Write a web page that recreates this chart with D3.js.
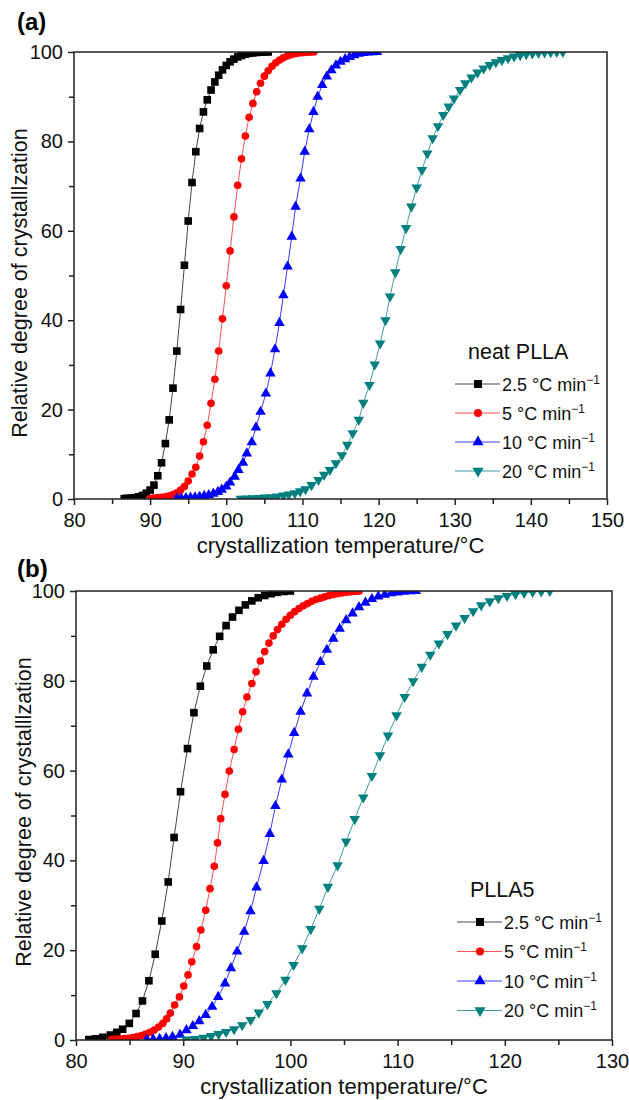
<!DOCTYPE html>
<html><head><meta charset="utf-8">
<script src="https://cdn.jsdelivr.net/npm/d3@7"></script>
<style>html,body{margin:0;padding:0;background:#fff;}svg{display:block;font-family:"Liberation Sans",Arial,Helvetica,sans-serif;}</style>
</head><body>
<svg id="chart" width="629" height="1100"></svg>
<script>
// ---------- data (temperature °C, relative degree of crystallization %) ----------
const seriesLabels = ["2.5 °C min", "5 °C min", "10 °C min", "20 °C min"];
const xTicksA = [80, 90, 100, 110, 120, 130, 140, 150];
const xTicksB = [80, 90, 100, 110, 120, 130];
const yTicks = [0, 20, 40, 60, 80, 100];

// panel (a) neat PLLA
const a25 = [[86.6,0.1],[87.0,0.15],[87.5,0.2],[88.0,0.3],[88.5,0.5],[89.0,0.8],[89.5,1.3],[90.0,2.0],[90.5,3.1],[91.0,5.2],[91.5,8.1],[92.0,12.4],[92.5,17.7],[93.0,24.8],[93.5,33.1],[94.0,42.4],[94.5,52.3],[95.0,62.2],[95.5,70.8],[96.0,77.7],[96.5,82.9],[97.0,86.6],[97.5,89.3],[98.0,91.5],[98.5,93.3],[99.0,94.8],[99.5,96.0],[100.0,97.0],[100.5,97.8],[101.0,98.4],[101.5,98.9],[102.0,99.2],[102.5,99.5],[103.0,99.7],[103.5,99.8],[104.0,99.9],[104.5,99.95],[105.0,100],[105.5,100]];
const a5 = [[90.0,0.1],[90.5,0.2],[91.0,0.3],[91.5,0.4],[92.0,0.5],[92.5,0.7],[93.0,1.0],[93.5,1.4],[94.0,2.0],[94.5,2.8],[95.0,4.0],[95.5,5.6],[96.0,7.1],[96.5,9.6],[97.0,12.8],[97.5,16.5],[98.0,21.4],[98.5,26.8],[99.0,33.1],[99.5,40.3],[100.0,47.7],[100.5,55.5],[101.0,63.1],[101.5,70.2],[102.0,76.1],[102.5,81.2],[103.0,85.4],[103.5,88.5],[104.0,91.1],[104.5,93.0],[105.0,94.6],[105.5,95.8],[106.0,96.8],[106.5,97.6],[107.0,98.2],[107.5,98.7],[108.0,99.1],[108.5,99.4],[109.0,99.6],[109.5,99.75],[110.0,99.85],[110.5,99.92],[111.0,99.97],[111.5,100]];
const a10 = [[93.5,0.1],[94.1,0.15],[94.7,0.2],[95.3,0.3],[95.9,0.4],[96.5,0.5],[97.1,0.7],[97.7,0.9],[98.3,1.2],[98.9,1.6],[99.4,2.1],[100.0,2.8],[100.5,3.7],[101.1,5.0],[101.6,6.5],[102.2,8.1],[102.7,10.2],[103.35,12.7],[103.9,16.0],[104.5,19.5],[105.2,23.6],[105.8,28.1],[106.4,33.5],[106.98,39.4],[107.5,45.6],[108.05,52.0],[108.6,58.7],[109.1,65.4],[109.75,71.7],[110.3,77.7],[110.9,82.7],[111.45,86.6],[112.0,90.0],[112.6,92.6],[113.2,94.5],[113.8,95.9],[114.4,97.0],[115.0,97.8],[115.6,98.4],[116.2,98.9],[116.8,99.3],[117.4,99.6],[118.0,99.8],[118.6,99.9],[119.2,99.95],[119.8,100]];
const a20 = [[101.9,0.05],[102.7,0.1],[103.5,0.15],[104.3,0.2],[105.1,0.3],[105.9,0.4],[106.7,0.55],[107.5,0.75],[108.2,1.0],[109.0,1.3],[109.7,1.7],[110.4,2.2],[111.2,3.1],[112.1,4.25],[112.85,5.4],[113.6,6.5],[114.4,8.0],[115.2,9.8],[115.9,12.1],[116.6,14.7],[117.4,17.7],[118.0,21.5],[118.8,25.5],[119.5,30.1],[120.2,34.8],[120.9,40.0],[121.5,45.3],[122.2,50.7],[122.9,55.9],[123.6,60.6],[124.3,65.4],[125.0,69.7],[125.7,73.6],[126.4,77.3],[127.1,80.7],[127.8,83.4],[128.5,85.9],[129.2,87.8],[129.9,89.6],[130.7,91.5],[131.4,93.0],[132.2,94.3],[133.0,95.4],[133.8,96.3],[134.6,97.1],[135.4,97.7],[136.2,98.2],[137.0,98.6],[137.8,99.0],[138.6,99.3],[139.4,99.5],[140.2,99.7],[141.0,99.8],[141.8,99.9],[142.6,99.95],[143.4,100],[144.2,100]];

// panel (b) PLLA5
const b25 = [[81.2,0.1],[81.8,0.25],[82.5,0.6],[83.2,1.1],[83.8,1.7],[84.35,2.4],[84.97,3.7],[85.6,5.9],[86.2,8.7],[86.8,13.2],[87.39,19.1],[88.0,26.5],[88.6,35.2],[89.15,45.1],[89.75,55.3],[90.4,64.9],[91.0,72.9],[91.6,78.8],[92.2,83.3],[92.8,86.9],[93.4,89.9],[94.0,92.3],[94.6,94.2],[95.2,95.7],[95.8,96.9],[96.4,97.8],[97.0,98.5],[97.6,99.0],[98.2,99.4],[98.8,99.7],[99.4,99.9],[100.0,100]];
const b5 = [[83.3,0.1],[83.7,0.15],[84.1,0.2],[84.5,0.3],[84.9,0.4],[85.3,0.55],[85.7,0.75],[86.1,1.0],[86.5,1.3],[86.9,1.7],[87.3,2.2],[87.7,2.9],[88.1,3.7],[88.45,4.7],[88.8,6.0],[89.2,7.8],[89.65,9.6],[90.05,12.0],[90.45,14.5],[90.8,17.4],[91.25,20.8],[91.65,24.5],[92.1,28.9],[92.5,33.7],[92.9,38.7],[93.2,43.9],[93.5,49.3],[93.9,54.7],[94.3,59.9],[94.75,64.7],[95.15,69.2],[95.55,73.1],[95.95,76.4],[96.4,79.4],[96.8,82.0],[97.2,84.4],[97.6,86.5],[98.0,88.4],[98.4,90.0],[98.8,91.4],[99.2,92.6],[99.6,93.7],[100.0,94.6],[100.4,95.4],[100.8,96.1],[101.2,96.7],[101.6,97.2],[102.0,97.7],[102.4,98.1],[102.8,98.4],[103.2,98.7],[103.6,99.0],[104.0,99.2],[104.4,99.4],[104.8,99.55],[105.2,99.7],[105.6,99.8],[106.0,99.9],[106.4,99.95]];
const b10 = [[86.6,0.1],[87.2,0.15],[87.8,0.25],[88.4,0.4],[89.0,0.7],[89.7,1.2],[90.3,2.2],[90.9,3.1],[91.5,4.2],[92.1,5.6],[92.7,7.4],[93.26,9.6],[93.9,12.6],[94.45,16.0],[95.03,19.7],[95.69,24.1],[96.28,28.7],[96.84,34.0],[97.5,39.9],[98.08,45.9],[98.6,52.1],[99.2,58.0],[99.8,63.6],[100.35,68.4],[100.95,73.1],[101.55,77.2],[102.15,80.9],[102.8,84.2],[103.4,86.9],[104.0,89.4],[104.6,91.6],[105.2,93.5],[105.8,95.0],[106.4,96.4],[107.0,97.4],[107.6,98.2],[108.2,98.8],[108.8,99.2],[109.4,99.5],[110.0,99.7],[110.6,99.85],[111.2,99.95],[111.7,100]];
const b20 = [[90.3,0.1],[91.1,0.2],[91.9,0.5],[92.6,0.9],[93.3,1.3],[94.0,1.8],[94.75,2.4],[95.5,3.3],[96.3,4.45],[97.05,6.1],[97.86,8.0],[98.7,10.4],[99.54,13.4],[100.3,16.7],[101.1,20.4],[101.9,24.7],[102.7,29.2],[103.5,34.1],[104.4,38.9],[105.2,44.2],[106.0,49.2],[106.8,54.0],[107.6,58.8],[108.35,63.4],[109.1,67.8],[109.9,72.3],[110.66,76.4],[111.45,79.9],[112.25,83.1],[113.05,85.8],[113.85,88.3],[114.65,90.4],[115.45,92.3],[116.25,94.0],[117.05,95.5],[117.8,96.8],[118.6,97.7],[119.4,98.4],[120.2,98.9],[121.0,99.3],[121.8,99.6],[122.6,99.8],[123.4,99.9],[124.2,100]];

// ---------- styles ----------
const markerColors = ["#000000", "#ff0000", "#0000ff", "#007f7f"];
const lineColors = ["#444444", "#ff5050", "#3a3aff", "#40a0a0"];
const symbols = [d3.symbolSquare, d3.symbolCircle, d3.symbolTriangle, d3.symbolTriangle];
const symSizes = [58, 46, 48, 48];
const symRot = [0, 0, 0, 180];

const svg = d3.select("#chart");

function panel(cfg) {
  const g = svg.append("g");
  const x = d3.scaleLinear().domain(cfg.xDomain).range([cfg.left, cfg.right]);
  const y = d3.scaleLinear().domain([0, 100]).range([cfg.bottom, cfg.top]);

  const clipId = "clip" + cfg.id;
  svg.append("clipPath").attr("id", clipId).append("rect")
    .attr("x", cfg.left).attr("y", cfg.top)
    .attr("width", cfg.right - cfg.left).attr("height", cfg.bottom - cfg.top);

  const plot = g.append("g").attr("clip-path", `url(#${clipId})`);
  const line = d3.line().x(d => x(d[0])).y(d => y(d[1]));
  cfg.series.forEach((s, i) => {
    plot.append("path").datum(s).attr("d", line)
      .attr("fill", "none").attr("stroke", lineColors[i]).attr("stroke-width", 1);
  });
  cfg.series.forEach((s, i) => {
    const sym = d3.symbol().type(symbols[i]).size(symSizes[i]);
    plot.selectAll(null).data(s).enter().append("path")
      .attr("d", sym)
      .attr("transform", d => `translate(${x(d[0])},${y(d[1])}) rotate(${symRot[i]})`)
      .attr("fill", markerColors[i]);
  });

  // frame
  g.append("rect").attr("x", cfg.left).attr("y", cfg.top)
    .attr("width", cfg.right - cfg.left).attr("height", cfg.bottom - cfg.top)
    .attr("fill", "none").attr("stroke", "#222").attr("stroke-width", 1.5);

  // x axis
  const xMinor = d3.range(cfg.xDomain[0] + 5, cfg.xDomain[1], 10);
  const xAx = g.append("g").attr("transform", `translate(0,${cfg.bottom})`);
  xAx.call(d3.axisBottom(x).tickValues(xMinor).tickSize(5).tickFormat(""));
  xAx.append("g").call(d3.axisBottom(x).tickValues(cfg.xTicks).tickSize(6).tickPadding(8).tickFormat(d3.format("d")));
  xAx.selectAll(".domain").remove();
  xAx.selectAll("line").attr("stroke", "#222").attr("stroke-width", 1.5);
  xAx.selectAll("text").attr("font-size", 20).attr("fill", "#111")
    .attr("font-family", '"Liberation Sans",Arial,sans-serif');

  // y axis
  const yAx = g.append("g").attr("transform", `translate(${cfg.left},0)`);
  yAx.call(d3.axisLeft(y).tickValues([10, 30, 50, 70, 90]).tickSize(5).tickFormat(""));
  yAx.append("g").call(d3.axisLeft(y).tickValues(yTicks).tickSize(6).tickPadding(5).tickFormat(d3.format("d")));
  yAx.selectAll(".domain").remove();
  yAx.selectAll("line").attr("stroke", "#222").attr("stroke-width", 1.5);
  yAx.selectAll("text").attr("font-size", 20).attr("fill", "#111")
    .attr("font-family", '"Liberation Sans",Arial,sans-serif');

  // axis titles
  g.append("text").attr("x", (cfg.left + cfg.right) / 2).attr("y", cfg.bottom + 54)
    .attr("text-anchor", "middle").attr("font-size", 22).attr("fill", "#111")
    .text("crystallization temperature/°C");
  g.append("text").attr("transform", `translate(${cfg.yTitleX},${cfg.yTitleY}) rotate(-90)`)
    .attr("text-anchor", "middle").attr("font-size", 21.5).attr("fill", "#111")
    .text("Relative degree of crystalllzation");

  // panel letter
  g.append("text").attr("x", cfg.letterX).attr("y", cfg.letterY)
    .attr("font-size", 24).attr("font-weight", "bold").attr("fill", "#000").text(cfg.letter);

  // legend
  const lg = g.append("g");
  lg.append("text").attr("x", cfg.legX + 13).attr("y", cfg.legTitleY)
    .attr("font-size", 21.5).attr("fill", "#111").text(cfg.legTitle);
  seriesLabels.forEach((lab, i) => {
    const yy = cfg.legY0 + i * cfg.legDy;
    lg.append("line").attr("x1", cfg.legX).attr("x2", cfg.legX + 45)
      .attr("y1", yy).attr("y2", yy).attr("stroke", lineColors[i]).attr("stroke-width", 1);
    lg.append("path").attr("d", d3.symbol().type(symbols[i]).size(symSizes[i] + 6))
      .attr("transform", `translate(${cfg.legX + 23},${yy}) rotate(${symRot[i]})`)
      .attr("fill", markerColors[i]);
    const t = lg.append("text").attr("x", cfg.legX + 47).attr("y", yy + 6.5)
      .attr("font-size", 18).attr("fill", "#111");
    t.append("tspan").text(lab);
    t.append("tspan").attr("font-size", 12).attr("dy", -7).text("−1");
  });
}

panel({
  id: "a", left: 74, right: 607, top: 52, bottom: 499, xDomain: [80, 150], xTicks: xTicksA,
  series: [a25, a5, a10, a20], yTitleX: 27, yTitleY: 283, letter: "(a)", letterX: 17, letterY: 30,
  legTitle: "neat PLLA", legX: 455, legTitleY: 359, legY0: 384, legDy: 29
});
panel({
  id: "b", left: 76, right: 612, top: 591, bottom: 1040, xDomain: [80, 130], xTicks: xTicksB,
  series: [b25, b5, b10, b20], yTitleX: 31, yTitleY: 812, letter: "(b)", letterX: 17, letterY: 577,
  legTitle: "PLLA5", legX: 457, legTitleY: 897, legY0: 922, legDy: 29.5
});
</script>
</body></html>
